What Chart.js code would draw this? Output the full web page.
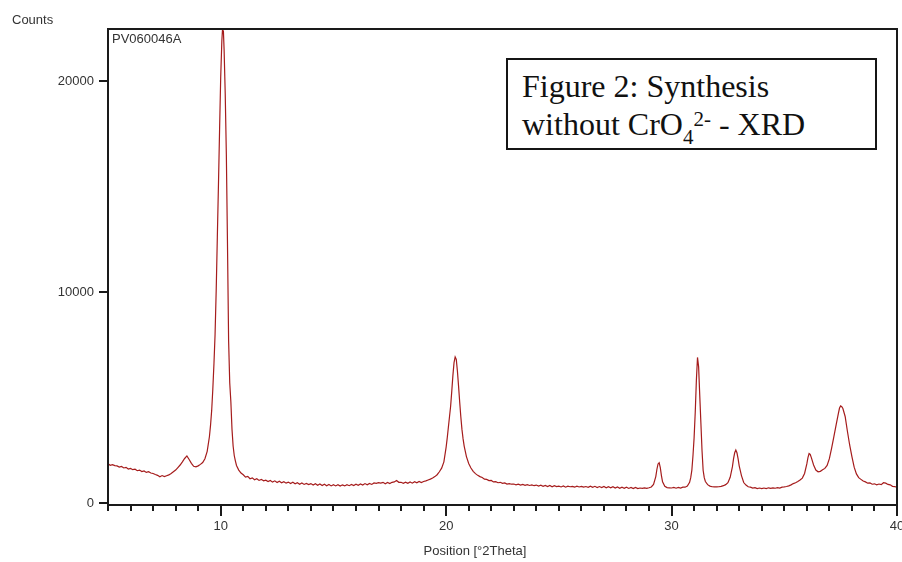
<!DOCTYPE html>
<html>
<head>
<meta charset="utf-8">
<script src="https://cdn.jsdelivr.net/npm/chart.js@4.4.1/dist/chart.umd.min.js"></script>
<style>
  html, body { margin: 0; padding: 0; background: #fff; overflow: hidden; }
  #wrap { position: absolute; left: 0; top: 0; width: 912px; height: 562px; }
  #caption {
    position: absolute; left: 506px; top: 58px; width: 367px; height: 88px;
    border: 2px solid #151515; background: #fff;
    font-family: "Liberation Serif", "Times New Roman", serif; color: #111;
  }
  .cline { position: absolute; left: 14px; font-size: 32px; line-height: 38px; white-space: nowrap; }
  .sub { font-size: 21px; position: relative; top: 9px; }
  .sup { font-size: 21px; position: relative; top: -9px; }
</style>
</head>
<body>
<div id="wrap">
  <canvas id="xrd" width="912" height="562"></canvas>
  <div id="caption">
    <div class="cline" style="top:7px;">Figure 2: Synthesis</div>
    <div class="cline" style="top:45px;">without CrO<span class="sub">4</span><span class="sup">2-</span> - XRD</div>
  </div>
</div>
<script>
// Diffraction scan: position (°2θ) and intensity (counts)
const twoTheta = [
  5.0,5.1,5.2,5.3,5.4,5.5,5.6,5.7,5.8,5.9,
  6.0,6.1,6.2,6.3,6.4,6.5,6.6,6.7,6.8,6.9,
  7.0,7.1,7.2,7.3,7.4,7.5,7.6,7.7,7.8,7.9,
  8.0,8.1,8.2,8.3,8.4,8.5,8.6,8.7,8.8,8.9,
  9.0,9.1,9.2,9.3,9.4,9.5,9.55,9.6,9.65,9.7,9.75,9.8,9.85,9.9,9.95,
  10.0,10.05,10.08,10.12,10.15,10.2,10.25,10.3,10.35,10.4,10.45,10.5,10.55,10.6,10.65,10.7,10.8,10.9,
  11.0,11.1,11.2,11.3,11.4,11.5,11.6,11.7,11.8,11.9,
  12.0,12.1,12.2,12.3,12.4,12.5,12.6,12.7,12.8,12.9,
  13.0,13.1,13.2,13.3,13.4,13.5,13.6,13.7,13.8,13.9,
  14.0,14.1,14.2,14.3,14.4,14.5,14.6,14.7,14.8,14.9,
  15.0,15.1,15.2,15.3,15.4,15.5,15.6,15.7,15.8,15.9,
  16.0,16.1,16.2,16.3,16.4,16.5,16.6,16.7,16.8,16.9,
  17.0,17.1,17.2,17.3,17.4,17.5,17.6,17.7,17.8,17.9,
  18.0,18.1,18.2,18.3,18.4,18.5,18.6,18.7,18.8,18.9,
  19.0,19.1,19.2,19.3,19.4,19.5,19.6,19.7,19.8,19.9,
  20.0,20.05,20.1,20.15,20.2,20.25,20.3,20.35,20.4,20.45,20.5,20.55,20.6,20.65,20.7,20.75,20.8,20.9,
  21.0,21.1,21.2,21.3,21.4,21.5,21.6,21.7,21.8,21.9,
  22.0,22.1,22.2,22.3,22.4,22.5,22.6,22.7,22.8,22.9,
  23.0,23.1,23.2,23.3,23.4,23.5,23.6,23.7,23.8,23.9,
  24.0,24.1,24.2,24.3,24.4,24.5,24.6,24.7,24.8,24.9,
  25.0,25.1,25.2,25.3,25.4,25.5,25.6,25.7,25.8,25.9,
  26.0,26.1,26.2,26.3,26.4,26.5,26.6,26.7,26.8,26.9,
  27.0,27.1,27.2,27.3,27.4,27.5,27.6,27.7,27.8,27.9,
  28.0,28.1,28.2,28.3,28.4,28.5,28.6,28.7,28.8,28.9,
  29.0,29.1,29.2,29.3,29.35,29.4,29.45,29.5,29.55,29.6,29.7,29.8,29.9,
  30.0,30.1,30.2,30.3,30.4,30.5,30.6,30.7,30.8,30.85,30.9,30.95,
  31.0,31.05,31.1,31.15,31.2,31.25,31.3,31.35,31.4,31.45,31.5,31.6,31.7,31.8,31.9,
  32.0,32.1,32.2,32.3,32.4,32.5,32.6,32.7,32.75,32.8,32.85,32.9,32.95,
  33.0,33.1,33.2,33.3,33.4,33.5,33.6,33.7,33.8,33.9,
  34.0,34.1,34.2,34.3,34.4,34.5,34.6,34.7,34.8,34.9,
  35.0,35.1,35.2,35.3,35.4,35.5,35.6,35.7,35.8,35.9,
  36.0,36.05,36.1,36.15,36.2,36.3,36.4,36.5,36.6,36.7,36.8,36.9,
  37.0,37.1,37.2,37.3,37.4,37.45,37.5,37.55,37.6,37.7,37.8,37.9,
  38.0,38.1,38.2,38.3,38.4,38.5,38.6,38.7,38.8,38.9,
  39.0,39.1,39.2,39.3,39.4,39.5,39.6,39.7,39.8,39.9,
  40.0
];
const counts = [
  1860,1790,1820,1770,1760,1700,1730,1660,1690,1610,
  1640,1580,1600,1530,1560,1490,1520,1450,1480,1420,
  1400,1350,1310,1240,1300,1250,1290,1330,1400,1480,
  1560,1680,1800,1950,2110,2230,2060,1880,1740,1710,
  1760,1830,1920,2100,2450,3150,3700,4400,5400,6600,8000,10100,12600,15100,17700,
  20200,21900,22450,22350,21500,19400,16500,12300,7700,5700,4800,3500,2700,2250,2000,1780,1560,1420,
  1340,1230,1260,1150,1190,1100,1150,1070,1120,1050,
  1080,1020,1070,990,1050,970,1030,960,1010,940,
  990,920,980,910,960,890,950,880,930,870,
  920,850,910,840,900,830,890,820,880,810,
  870,810,870,800,860,810,870,820,880,830,
  890,840,900,850,920,860,930,880,950,930,
  960,940,980,910,970,920,980,1000,1070,980,
  980,930,990,930,1000,940,1010,960,1020,970,
  1020,1050,1090,1130,1180,1250,1340,1480,1650,1950,
  2650,3100,3600,4100,4600,5300,6050,6650,6920,6800,6250,5550,4800,4100,3500,3050,2700,2200,
  1870,1660,1500,1390,1310,1250,1210,1130,1120,1060,
  1070,1000,1010,960,980,930,950,900,920,890,
  900,860,890,850,880,840,870,830,860,820,
  850,800,840,790,830,780,830,770,820,780,
  800,760,810,750,800,770,790,750,800,760,
  790,750,780,740,800,740,790,730,780,730,
  780,720,770,720,770,710,760,700,750,700,
  750,690,740,680,740,680,710,690,720,690,
  720,760,880,1250,1600,1850,1910,1680,1300,1000,790,730,720,
  710,740,700,740,710,750,750,800,980,1200,1560,2250,
  3100,4300,5800,6900,6450,5100,3800,2500,1550,1200,1020,870,800,770,760,
  760,770,790,820,870,960,1220,1720,2100,2380,2510,2380,2100,
  1760,1300,970,850,770,750,710,730,680,710,
  680,710,680,720,690,720,700,730,710,750,
  760,780,810,860,920,960,1020,1090,1180,1400,
  1850,2150,2340,2300,2150,1800,1560,1480,1500,1570,1640,1780,
  2100,2600,3150,3700,4250,4500,4600,4560,4480,4100,3400,2750,
  2200,1700,1380,1200,1120,1040,1000,940,950,890,
  910,860,900,870,960,940,880,860,790,780,
  740
];
const xTickLabels = [10, 20, 30, 40];
const yTickValues = [0, 10000, 20000];

const points = twoTheta.map((x, i) => ({ x: x, y: counts[i] }));

const inkColor = '#1a1a1a';
const labelColor = '#333333';
const labelFont = '13px "Liberation Sans", Arial, sans-serif';

// Plot frame, outward tick marks and free-standing labels
const frameAndTicks = {
  id: 'frameAndTicks',
  afterDraw(chart) {
    const ctx = chart.ctx;
    const ca = chart.chartArea;
    const xs = chart.scales.x;
    const ys = chart.scales.y;
    ctx.save();
    ctx.strokeStyle = inkColor;
    ctx.lineWidth = 2;
    ctx.strokeRect(ca.left, ca.top, ca.right - ca.left, ca.bottom - ca.top);
    ctx.beginPath();
    xs.ticks.forEach(t => {
      const px = Math.round(xs.getPixelForValue(t.value));
      const len = xTickLabels.includes(t.value) ? 11 : 6;
      ctx.moveTo(px, ca.bottom);
      ctx.lineTo(px, ca.bottom + len);
    });
    yTickValues.forEach(v => {
      const py = Math.round(ys.getPixelForValue(v));
      ctx.moveTo(ca.left - 9, py);
      ctx.lineTo(ca.left, py);
    });
    ctx.stroke();

    ctx.fillStyle = labelColor;
    ctx.font = labelFont;
    ctx.textBaseline = 'middle';
    ctx.textAlign = 'left';
    ctx.fillText('Counts', 12, 20);
    ctx.fillText('PV060046A', 112, 39);
    ctx.textAlign = 'center';
    ctx.fillText('Position [°2Theta]', 475, 551);
    ctx.restore();
  }
};

new Chart(document.getElementById('xrd'), {
  type: 'scatter',
  data: {
    datasets: [{
      data: points,
      showLine: true,
      borderColor: 'rgb(165, 28, 28)',
      borderWidth: 1.2,
      pointRadius: 0,
      tension: 0
    }]
  },
  options: {
    responsive: false,
    animation: false,
    devicePixelRatio: 1,
    layout: { padding: { top: 29, right: 15, bottom: 0, left: 0 } },
    plugins: { legend: { display: false }, tooltip: { enabled: false } },
    scales: {
      x: {
        type: 'linear',
        min: 5,
        max: 40,
        grid: { display: false, drawTicks: false },
        border: { display: false },
        ticks: {
          stepSize: 1,
          autoSkip: false,
          maxRotation: 0,
          padding: 14,
          color: labelColor,
          font: { family: '"Liberation Sans", Arial, sans-serif', size: 13 },
          callback: v => (xTickLabels.includes(v) ? String(v) : '')
        },
        afterFit: s => { s.height = 57; s.paddingLeft = 0; s.paddingRight = 0; }
      },
      y: {
        type: 'linear',
        min: -95,
        max: 22465,
        grid: { display: false, drawTicks: false },
        border: { display: false },
        afterBuildTicks: s => { s.ticks = yTickValues.map(v => ({ value: v })); },
        ticks: {
          padding: 14,
          color: labelColor,
          font: { family: '"Liberation Sans", Arial, sans-serif', size: 13 },
          callback: v => String(v)
        },
        afterFit: s => { s.width = 108; s.paddingTop = 0; s.paddingBottom = 0; }
      }
    }
  },
  plugins: [frameAndTicks]
});
</script>
</body>
</html>
